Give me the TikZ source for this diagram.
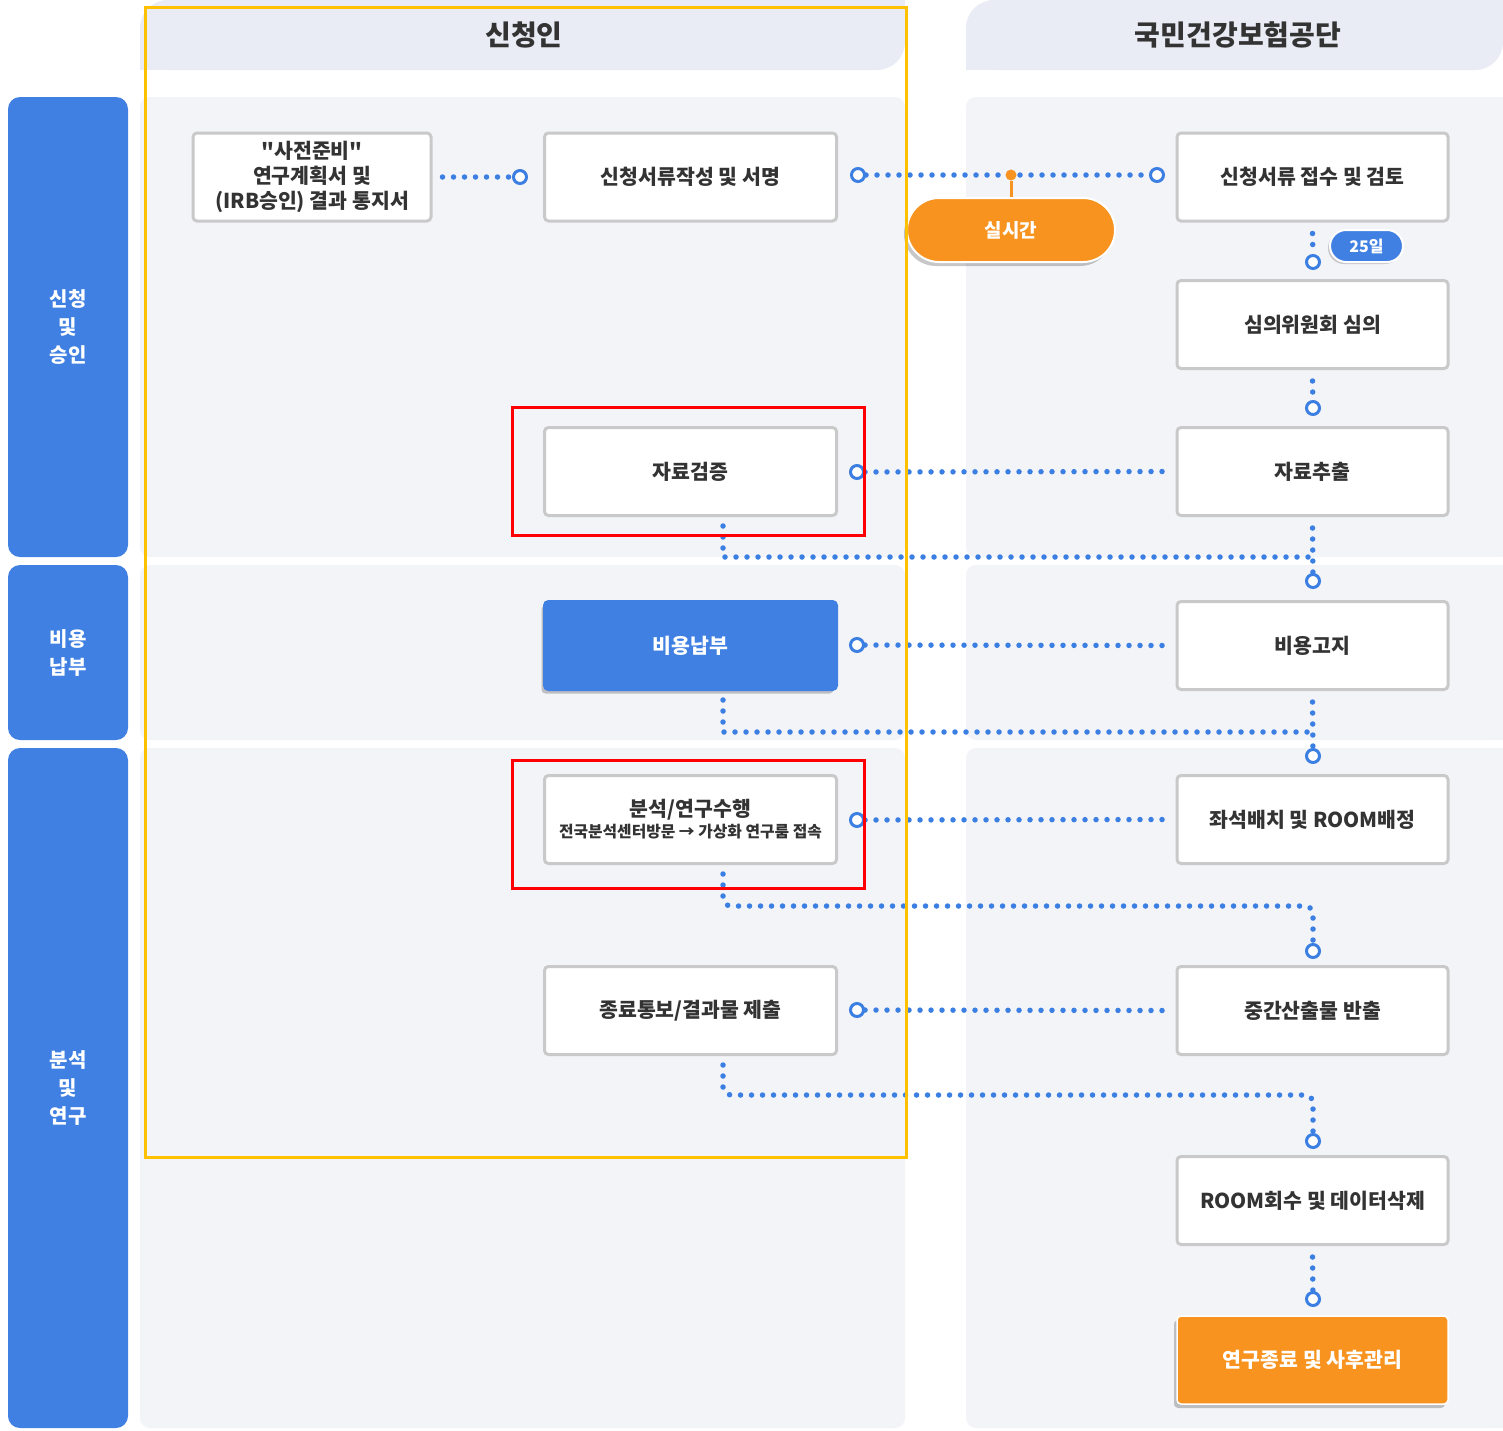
\documentclass[tikz,border=0pt]{standalone}
\usepackage{fontspec}
\setmainfont{Noto Sans CJK KR}
\newfontfamily\krplain{Noto Sans CJK KR}
\usetikzlibrary{shadows,calc}
\definecolor{hdrbg}{HTML}{E9ECF4}
\definecolor{panelbg}{HTML}{F3F4F8}
\definecolor{sideblue}{HTML}{3F80E2}
\definecolor{dotblue}{HTML}{3B7FE3}
\definecolor{orng}{HTML}{F7931E}
\definecolor{gold}{HTML}{FFC000}
\definecolor{boxline}{HTML}{C9C9C9}
\definecolor{txt}{HTML}{333333}
\pgfdeclarelayer{back}
\pgfdeclarelayer{lines}
\pgfdeclarelayer{front}
\pgfsetlayers{back,lines,main,front}
\begin{document}
\begin{tikzpicture}[x=1pt,y=-1pt,
  boxbase/.style={draw=boxline, line width=3pt, fill=white, rounded corners=4pt,
    minimum height=88pt, inner sep=0pt, align=center,
    font=\fontsize{20.5}{25}\selectfont\bfseries, text=txt},
  lbox/.style={boxbase, minimum width=292pt},
  rbox/.style={boxbase, minimum width=271pt},
  abox/.style={boxbase, minimum width=238pt},
  side/.style={fill=sideblue, rounded corners=12pt, minimum width=120pt, inner sep=0pt,
    align=center, text=white, font=\fontsize{20}{28}\selectfont\bfseries},
  hdrtext/.style={text=txt, font=\fontsize{28}{32}\selectfont\bfseries},
  dotline/.style={draw=dotblue, line width=5.5pt, line cap=round, dash pattern=on 0pt off 11pt},
  endc/.style={circle, draw=dotblue, line width=3pt, fill=white, minimum size=13pt, inner sep=0pt},
  softshadow/.style={drop shadow={shadow xshift=-3pt, shadow yshift=-4pt, opacity=0.22, fill=black}}
]
\useasboundingbox (0,0) rectangle (1503,1430);

% ---------- backgrounds ----------
\begin{pgfonlayer}{back}
  \fill[white] (0,0) rectangle (1503,1430);
  % headers
  \fill[hdrbg, rounded corners=28pt] (140,0) rectangle (905,70);
  \fill[hdrbg] (860,0) rectangle (905,35);
  \fill[hdrbg] (140,40) rectangle (185,70);
  \fill[hdrbg, rounded corners=28pt] (966,0) rectangle (1503,70);
  \fill[hdrbg] (1460,0) rectangle (1503,35);
  \fill[hdrbg] (966,40) rectangle (1010,70);
  % left column panels
  \fill[panelbg, rounded corners=10pt] (140,97) rectangle (905,557);
  \fill[panelbg, rounded corners=10pt] (140,565) rectangle (905,740);
  \fill[panelbg, rounded corners=10pt] (140,748) rectangle (905,1428);
  % right column panels
  \fill[panelbg, rounded corners=10pt] (966,97) rectangle (1503,557);
  \fill[panelbg] (1480,97) rectangle (1503,557);
  \fill[panelbg, rounded corners=10pt] (966,565) rectangle (1503,740);
  \fill[panelbg] (1480,565) rectangle (1503,740);
  \fill[panelbg, rounded corners=10pt] (966,748) rectangle (1503,1428);
  \fill[panelbg] (1480,748) rectangle (1503,1428);
\end{pgfonlayer}

% ---------- headers ----------
\node[hdrtext] (h1) at (524,35) {신청인};
\node[hdrtext] (h2) at (1238,35) {국민건강보험공단};

% ---------- side labels ----------
\node[side, minimum height=460pt] (s1) at (68,327) {신청\\및\\승인};
\node[side, minimum height=175pt] (s2) at (68,652.5) {비용\\납부};
\node[side, minimum height=680pt] (s3) at (68,1088) {분석\\및\\연구};

% ---------- boxes ----------
\node[abox] (A) at (312,177) {{\krplain "사전준비"}\\연구계획서 및\\(IRB승인) 결과 통지서};
\node[lbox] (B) at (690.5,177) {신청서류작성 및 서명};
\node[rbox] (C) at (1312.5,177) {신청서류 접수 및 검토};
\node[rbox] (D) at (1312.5,324.5) {심의위원회 심의};
\node[lbox] (E) at (690.5,471.5) {자료검증};
\node[rbox] (F) at (1312.5,471.5) {자료추출};
\node[lbox, fill=sideblue, draw=sideblue, text=white, softshadow] (G) at (690.5,645.5) {비용납부};
\node[rbox] (H) at (1312.5,645.5) {비용고지};
\node[lbox] (I) at (690.5,819.5) {분석/연구수행\\[-4pt]{\fontsize{15.8}{19}\selectfont 전국분석센터방문 → 가상화 연구룸 접속}};
\node[rbox] (J) at (1312.5,819.5) {좌석배치 및 ROOM배정};
\node[lbox] (K) at (690.5,1010.5) {종료통보/결과물 제출};
\node[rbox] (L) at (1312.5,1010.5) {중간산출물 반출};
\node[rbox] (M) at (1312.5,1200.5) {ROOM회수 및 데이터삭제};
\node[rbox, fill=orng, draw=white, line width=1.5pt, text=white, softshadow] (N) at (1312.5,1360) {연구종료 및 사후관리};

% ---------- pill and badge ----------
\node[fill=orng, draw=white, line width=2pt, rounded corners=32pt, minimum width=208pt,
  minimum height=64pt, inner sep=0pt, text=white, font=\fontsize{19}{22}\selectfont\bfseries,
  softshadow] (pill) at (1011,230) {실시간};
\node[circle, fill=orng, minimum size=11pt, inner sep=0pt] (od) at (1011,175) {};
\node[fill=sideblue, draw=white, line width=2pt, rounded corners=16pt, minimum width=73pt,
  minimum height=32pt, inner sep=0pt, text=white, font=\fontsize{16}{18}\selectfont\bfseries,
  drop shadow={shadow xshift=-2pt, shadow yshift=-2pt, opacity=0.18, fill=black}] (badge) at (1366.5,246) {25일};

% ---------- end circles ----------
\node[endc] (c1) at (520,177) {};
\node[endc] (c2a) at (858,175) {};
\node[endc] (c2b) at (1157,175) {};
\node[endc] (c3) at (1313,262) {};
\node[endc] (c4) at (1313,408) {};
\node[endc] (c5) at (857,472) {};
\node[endc] (c6) at (1313,581) {};
\node[endc] (c7) at (857,645) {};
\node[endc] (c8) at (1313,756) {};
\node[endc] (c9) at (857,820) {};
\node[endc] (c10) at (1313,951) {};
\node[endc] (c11) at (857,1010) {};
\node[endc] (c12) at (1313,1141) {};
\node[endc] (c13) at (1313,1299) {};

\coordinate (j6) at (1313,557);
\coordinate (j8) at (1313,732);
\coordinate (j10) at (1313,906);
\coordinate (j12) at (1313,1095);

% ---------- connectors ----------
\begin{pgfonlayer}{lines}
  \draw[dotline] ($(A.east)+(10,0)$) -- (c1);
  \draw[dotline] (c2a) -- (c2b);
  \draw[dotline] ($(C.south)+(0,11)$) -- (c3);
  \draw[dotline] ($(D.south)+(0,11)$) -- (c4);
  \draw[dotline] (c5) -- ($(F.west)+(-11,0)$);
  \draw[dotline] ($(E.south)+(32.5,9)$) |- (j6);
  \draw[dotline] ($(F.south)+(0,11)$) -- (c6);
  \draw[dotline] (c7) -- ($(H.west)+(-11,0)$);
  \draw[dotline] ($(G.south)+(32.5,9)$) |- (j8);
  \draw[dotline] ($(H.south)+(0,11)$) -- (c8);
  \draw[dotline] (c9) -- ($(J.west)+(-11,0)$);
  \draw[dotline, rounded corners=8pt] ($(I.south)+(32.5,9)$) |- (j10) -- (c10);
  \draw[dotline] (c11) -- ($(L.west)+(-11,0)$);
  \draw[dotline, rounded corners=8pt] ($(K.south)+(32.5,9)$) |- (j12) -- (c12);
  \draw[dotline] ($(M.south)+(0,11)$) -- (c13);
  \draw[orng, line width=3pt] (od) -- (pill.north);
\end{pgfonlayer}

% ---------- highlight frames ----------
\begin{pgfonlayer}{front}
  \draw[gold, line width=3pt] (145.5,7.5) rectangle (906.5,1157.5);
  \draw[red, line width=3pt] (512,407) rectangle (864,535);
  \draw[red, line width=3pt] (512,760) rectangle (864,888);
\end{pgfonlayer}
\end{tikzpicture}
\end{document}
